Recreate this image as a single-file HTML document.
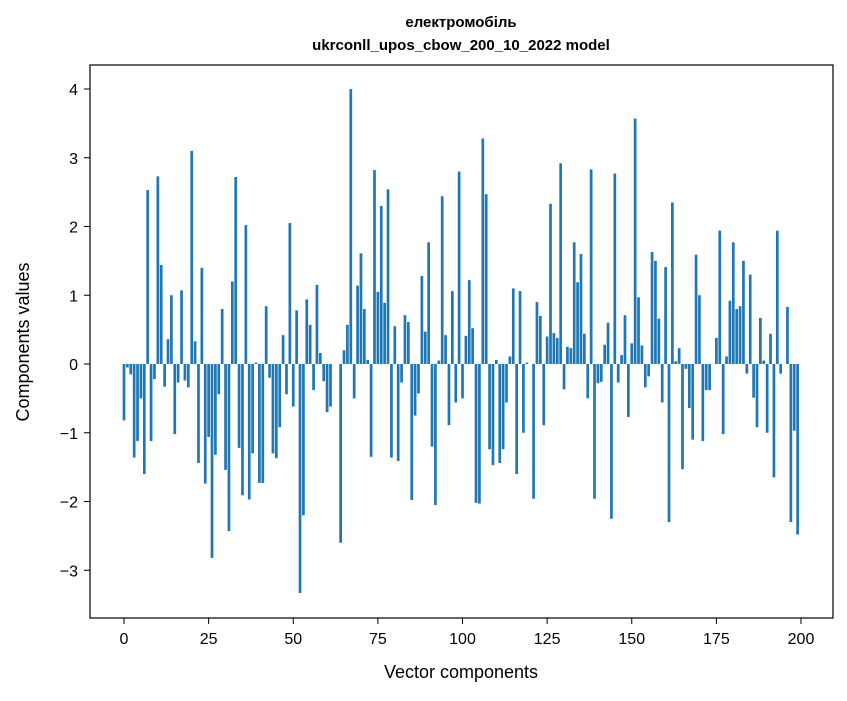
<!DOCTYPE html>
<html><head><meta charset="utf-8"><style>
body{margin:0;background:#fff;}
text{font-family:"Liberation Sans","DejaVu Sans",sans-serif;fill:#000;}
</style></head><body>
<svg id="chart" width="847" height="696" viewBox="0 0 847 696">
<rect width="847" height="696" fill="#fff"/>
<text x="461" y="27" font-size="15" font-weight="bold" text-anchor="middle">електромобіль</text>
<text x="461" y="50" font-size="15" font-weight="bold" text-anchor="middle">ukrconll_upos_cbow_200_10_2022 model</text>
<g id="bars"></g>
<rect x="90" y="65" width="743" height="553" fill="none" stroke="#000" stroke-width="1.2"/>
<g id="xt"></g>
<g id="yt"></g>
<text x="461" y="678" font-size="18" text-anchor="middle">Vector components</text>
<text x="29" y="342" font-size="18" text-anchor="middle" transform="rotate(-90 29 342)">Components values</text>
</svg>
<script>
const values=[-0.82,-0.05,-0.15,-1.36,-1.12,-0.5,-1.6,2.53,-1.12,-0.22,2.73,1.44,-0.33,0.36,1.0,-1.02,-0.27,1.07,-0.24,-0.34,
3.1,0.33,-1.44,1.4,-1.74,-1.06,-2.82,-1.32,-0.44,0.8,-1.54,-2.43,1.2,2.72,-1.22,-1.91,2.02,-1.97,-1.3,0.02,
-1.73,-1.73,0.84,-0.2,-1.3,-1.37,-0.92,0.42,-0.44,2.05,-0.62,0.78,-3.33,-2.2,0.94,0.57,-0.38,1.15,0.16,-0.25,
-0.7,-0.62,0.0,0.0,-2.6,0.2,0.57,4.0,-0.5,1.14,1.61,0.8,0.06,-1.35,2.82,1.05,2.3,0.89,2.54,-1.36,
0.55,-1.41,-0.27,0.71,0.61,-1.98,-0.75,-0.43,1.28,0.47,1.77,-1.2,-2.05,0.05,2.44,0.42,-0.89,1.06,-0.56,2.8,
-0.5,0.41,1.22,0.52,-2.02,-2.03,3.28,2.47,-1.24,-1.47,0.06,-1.44,-1.24,-0.56,0.11,1.1,-1.6,1.06,-1.0,0.02,
0.0,-1.96,0.9,0.7,-0.89,0.4,2.33,0.45,0.38,2.92,-0.37,0.25,0.23,1.77,1.19,1.6,0.44,-0.5,2.83,-1.96,
-0.28,-0.26,0.28,0.6,-2.25,2.77,-0.27,0.13,0.71,-0.77,0.3,3.57,0.97,0.27,-0.34,-0.18,1.63,1.5,0.66,-0.56,
1.41,-2.3,2.35,0.04,0.23,-1.53,-0.07,-0.64,-1.1,1.59,1.0,-1.12,-0.38,-0.38,0.0,0.38,1.94,-1.02,0.11,0.92,
1.77,0.8,0.84,1.5,-0.14,1.3,-0.49,-0.92,0.67,0.05,-1.0,0.44,-1.65,1.94,-0.14,0.0,0.83,-2.3,-0.97,-2.48];
const xTicks=[0,25,50,75,100,125,150,175,200];
const yTicks=[-3,-2,-1,0,1,2,3,4];
const NS="http://www.w3.org/2000/svg";
const xs=v=>124+v*3.385;
const ys=v=>364-v*68.75;
const bars=document.getElementById('bars');
values.forEach((v,i)=>{
 const r=document.createElementNS(NS,'rect');
 
 
 const y0=ys(0),y1=ys(v);
 r.setAttribute('x',xs(i)-1.35);r.setAttribute('width',2.7);
 r.setAttribute('y',Math.min(y0,y1));r.setAttribute('height',Math.abs(y1-y0));
 r.setAttribute('fill','#1f77b4');bars.appendChild(r);
});
const xt=document.getElementById('xt');
xTicks.forEach(t=>{
 const l=document.createElementNS(NS,'line');
 
 
 l.setAttribute('x1',xs(t));l.setAttribute('x2',xs(t));l.setAttribute('y1',618);l.setAttribute('y2',624);l.setAttribute('stroke','#000');
 xt.appendChild(l);
 const tx=document.createElementNS(NS,'text');
 
 
 tx.setAttribute('x',xs(t));tx.setAttribute('y',644);tx.setAttribute('font-size','16');tx.setAttribute('text-anchor','middle');
 tx.textContent=t;xt.appendChild(tx);
});
const yt=document.getElementById('yt');
yTicks.forEach(t=>{
 const l=document.createElementNS(NS,'line');
 
 
 l.setAttribute('x1',84);l.setAttribute('x2',90);l.setAttribute('y1',ys(t));l.setAttribute('y2',ys(t));l.setAttribute('stroke','#000');
 yt.appendChild(l);
 const tx=document.createElementNS(NS,'text');
 
 
 tx.setAttribute('x',78);tx.setAttribute('y',ys(t)+6);tx.setAttribute('font-size','16');tx.setAttribute('text-anchor','end');
 tx.textContent=t<0?'\u2212'+(-t):t;yt.appendChild(tx);
});
</script>
</body></html>
